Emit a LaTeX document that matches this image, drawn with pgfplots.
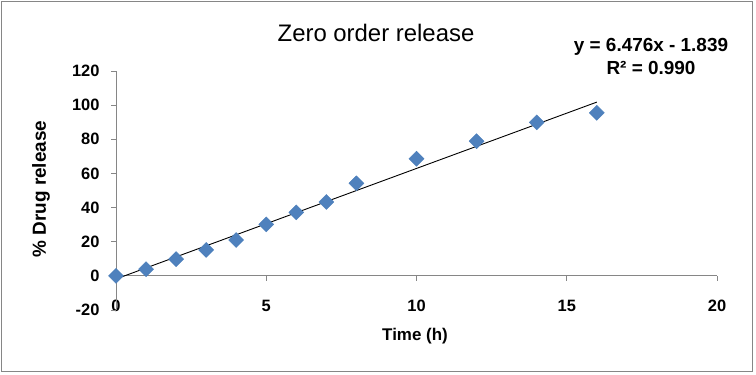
\documentclass[border=0pt]{standalone}
\usepackage{pgfplots}
\pgfplotsset{compat=1.18}
\usepackage{fontspec}
\setmainfont{Liberation Sans}
\definecolor{mk}{HTML}{4F81BD}
\definecolor{mkedge}{HTML}{4A7EBB}
\definecolor{ax}{HTML}{868686}
\begin{document}
\begin{tikzpicture}
\useasboundingbox (0,0) rectangle (756bp,375bp);
\draw[ax, line width=1.5bp] (1.5bp,3.5bp) rectangle (752.5bp,373.5bp);
\begin{axis}[
  at={(116bp,65bp)}, anchor=south west,
  scale only axis, width=601bp, height=239bp,
  xmin=0, xmax=20, ymin=-20, ymax=120,
  xtick={0,5,10,15,20}, ytick={-20,0,20,40,60,80,100,120},
  axis line style={draw=none}, major tick length=0pt,
  clip=false,
  /pgf/number format/assume math mode=true,
  tick label style={font=\fontsize{16.5}{16.5}\selectfont\bfseries},
  xticklabel style={anchor=center, yshift=4bp},
  yticklabel style={anchor=east, xshift=-13bp},
]
\pgfplotsinvokeforeach{0,5,10,15,20}{\draw[ax, line width=0.9bp] (axis cs:#1,0) -- ([yshift=-5bp]axis cs:#1,0);}
\pgfplotsinvokeforeach{-20,0,20,40,60,80,100,120}{\draw[ax, line width=0.9bp] (axis cs:0,#1) -- ([xshift=-5bp]axis cs:0,#1);}
\draw[ax, line width=0.9bp] (axis cs:0,0) -- (axis cs:20,0);
\draw[ax, line width=0.9bp] (axis cs:0,-20) -- (axis cs:0,120);
\addplot[black, line width=0.9bp, no marks] coordinates {(0,-1.839) (16,101.777)};
\addplot[only marks, mark=square*, mark size=5.3bp, mark options={rotate=45, fill=mk, draw=mkedge, line width=0.4bp}]
  coordinates {
  (0,0) (1,3.9) (2,9.8) (3,15.2) (4,21.0) (5,30.2) (6,37.2) (7,43.3)
  (8,54.2) (10,68.6) (12,78.9) (14,89.9) (16,95.5)
  };
\end{axis}
\node[font=\fontsize{24}{24}\selectfont, anchor=center] at (376bp,342bp) {Zero order release};
\node[font=\fontsize{17}{17}\selectfont\bfseries, anchor=center] at (415bp,39bp) {Time (h)};
\node[font=\fontsize{19}{19}\selectfont\bfseries, anchor=center, rotate=90] at (41bp,186bp) {\% Drug release};
\node[font=\fontsize{19}{19}\selectfont\bfseries, anchor=center] at (651bp,328bp) {y = 6.476x - 1.839};
\node[font=\fontsize{19}{19}\selectfont\bfseries, anchor=center] at (651bp,307bp) {R² = 0.990};
\end{tikzpicture}
\end{document}
